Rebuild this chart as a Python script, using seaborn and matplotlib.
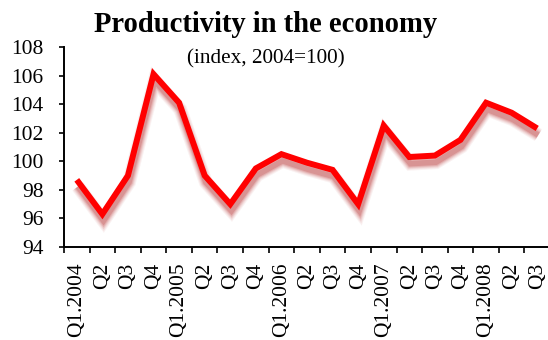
import matplotlib
matplotlib.use("Agg")
import matplotlib.pyplot as plt
import matplotlib.patheffects as pe
import seaborn as sns
import pandas as pd
import numpy as np

quarters = ["Q1.2004", "Q2", "Q3", "Q4",
            "Q1.2005", "Q2", "Q3", "Q4",
            "Q1.2006", "Q2", "Q3", "Q4",
            "Q1.2007", "Q2", "Q3", "Q4",
            "Q1.2008", "Q2", "Q3"]
productivity = [98.7, 96.3, 99.0, 106.1,
                104.1, 99.0, 97.0, 99.5,
                100.5, 99.9, 99.4, 97.0,
                102.5, 100.3, 100.4, 101.5,
                104.1, 103.4, 102.3]
y_ticks = [94, 96, 98, 100, 102, 104, 106, 108]

sns.set_style("white")
plt.rcParams["font.family"] = ["Liberation Serif", "DejaVu Serif"]
plt.rcParams["text.color"] = "black"
plt.rcParams["xtick.color"] = "black"
plt.rcParams["ytick.color"] = "black"

df = pd.DataFrame({"pos": np.arange(len(quarters)), "value": productivity})

fig = plt.figure(figsize=(5.48, 3.40), dpi=100)
ax = fig.add_axes([64 / 548, 1 - 247 / 340, (550 - 64) / 548, (247 - 47) / 340])

sns.lineplot(data=df, x="pos", y="value", ax=ax, color="#ff0000",
             linewidth=4.3, solid_joinstyle="miter", solid_capstyle="butt")

# soft drop shadow under the line
shadow = []
for lw, a in [(10.0, 0.06), (8.5, 0.08), (7.0, 0.11), (5.5, 0.15), (4.0, 0.2)]:
    shadow.append(pe.SimpleLineShadow(offset=(0.8, -4.8), shadow_color="#b02020",
                                      alpha=a, linewidth=lw))
shadow.append(pe.Normal())
ax.lines[0].set_path_effects(shadow)

ax.set_xlim(-0.5, len(quarters) - 0.5)
ax.set_ylim(94, 108)
ax.set_yticks(y_ticks)
ax.set_yticklabels([str(v) for v in y_ticks], fontsize=15.5)

ax.set_xticks(np.arange(len(quarters) + 1) - 0.5)
ax.set_xticklabels([])
ax.set_xticks(np.arange(len(quarters)), minor=True)
ax.set_xticklabels(quarters, minor=True, rotation=90, fontsize=15.5)
ax.tick_params(axis="x", which="minor", length=0, pad=11)
ax.tick_params(axis="x", which="major", direction="out", length=4, width=1.2)
ax.tick_params(axis="y", direction="out", length=3.6, width=1.2, pad=11)
ax.tick_params(axis="y", which="both", left=True)
ax.tick_params(axis="x", which="major", bottom=True)

ax.set_xlabel("")
ax.set_ylabel("")
for side in ["top", "right"]:
    ax.spines[side].set_visible(False)
for side in ["left", "bottom"]:
    ax.spines[side].set_color("black")
    ax.spines[side].set_linewidth(1.4)

fig.text(266 / 548, 1 - 25 / 340, "Productivity in the economy", ha="center", va="center",
         fontsize=20.6, fontweight="bold")
fig.text(266 / 548, 1 - 59 / 340, "(index, 2004=100)", ha="center", va="center",
         fontsize=15.3)

fig.savefig("out.png", dpi=100)
